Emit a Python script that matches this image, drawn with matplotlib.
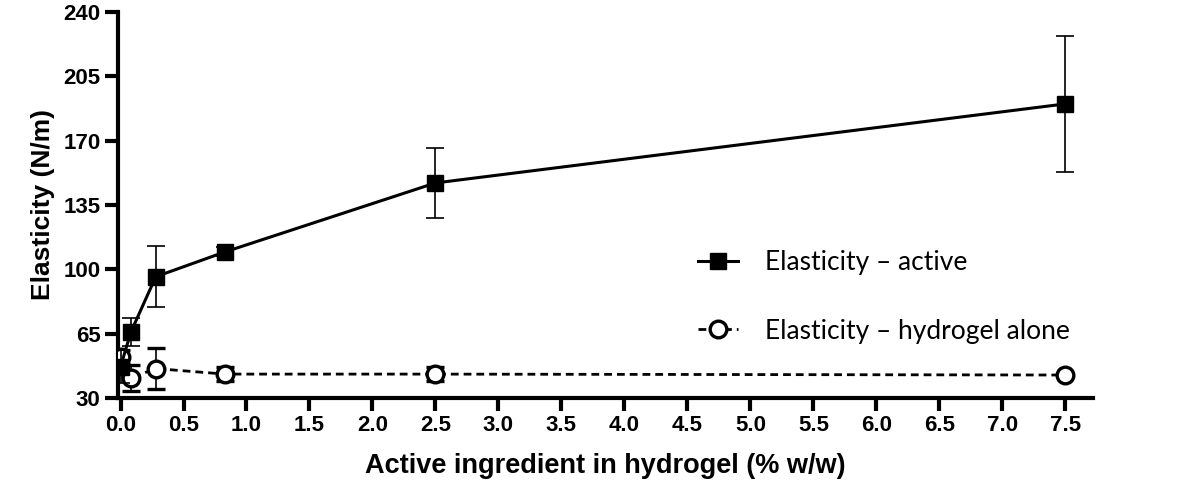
import matplotlib
matplotlib.use("Agg")
import matplotlib.pyplot as plt
from matplotlib.lines import Line2D

plt.rcParams.update({
    "font.family": "Liberation Sans",
    "font.weight": "bold",
    "axes.linewidth": 3.0,
})

# data
conc = [0.0, 0.083, 0.28, 0.83, 2.5, 7.5]
active = [47.0, 66.0, 96.0, 109.5, 147.0, 190.0]
active_err = [9.0, 7.5, 16.5, 2.5, 19.0, 37.0]
gel = [52.3, 41.0, 46.0, 43.0, 43.0, 42.5]
gel_err = [4.0, 7.0, 11.0, 4.0, 4.0, 1.0]

xticks = [i * 0.5 for i in range(16)]
yticks = [30, 65, 100, 135, 170, 205, 240]

fig = plt.figure(figsize=(11.77, 4.97), dpi=100)
ax = fig.add_axes([118 / 1177, 99 / 497, (1093 - 118) / 1177, (398 - 12) / 497])

ax.errorbar(conc, gel, yerr=gel_err, color="black", lw=2.0, ls=(0, (2.8, 1.8)),
            marker="o", ms=12, mfc="white", mec="black", mew=2.4,
            elinewidth=1.2, capsize=6.5, capthick=1.2, zorder=3)
ax.errorbar(conc, active, yerr=active_err, color="black", lw=2.2,
            marker="s", ms=12, mfc="black", mec="black",
            elinewidth=1.2, capsize=6.5, capthick=1.2, zorder=4)

ax.set_xlim(-0.02, 7.72)
ax.set_ylim(30, 240)
ax.set_xticks(xticks)
ax.set_xticklabels([f"{t:.1f}" for t in xticks])
ax.set_yticks(yticks)
ax.tick_params(axis="both", which="major", length=9.5, width=3.0, labelsize=16, pad=3)
for lab in ax.get_xticklabels() + ax.get_yticklabels():
    lab.set_fontweight("bold")
ax.spines["top"].set_visible(False)
ax.spines["right"].set_visible(False)

ax.set_xlabel("Active ingredient in hydrogel (% w/w)", fontsize=19.5, fontweight="bold", labelpad=12)
ax.set_ylabel("Elasticity (N/m)", fontsize=19, fontweight="bold", labelpad=6)

handles = [
    Line2D([], [], color="black", lw=2.2, marker="s", ms=12, mfc="black"),
    Line2D([], [], color="black", lw=2.0, ls=(0, (2.8, 1.8)), marker="o", ms=12,
           mfc="white", mew=2.4),
]
ax.legend(handles, ["Elasticity \u2013 active", "Elasticity \u2013 hydrogel alone"],
          loc="center left", bbox_to_anchor=(0.595, 0.262), frameon=False,
          borderaxespad=0, borderpad=0,
          handlelength=1.5, handletextpad=1.05, labelspacing=1.65,
          prop={"family": "Lato", "size": 19, "weight": "normal"})

fig.savefig("out.png", dpi=100)
